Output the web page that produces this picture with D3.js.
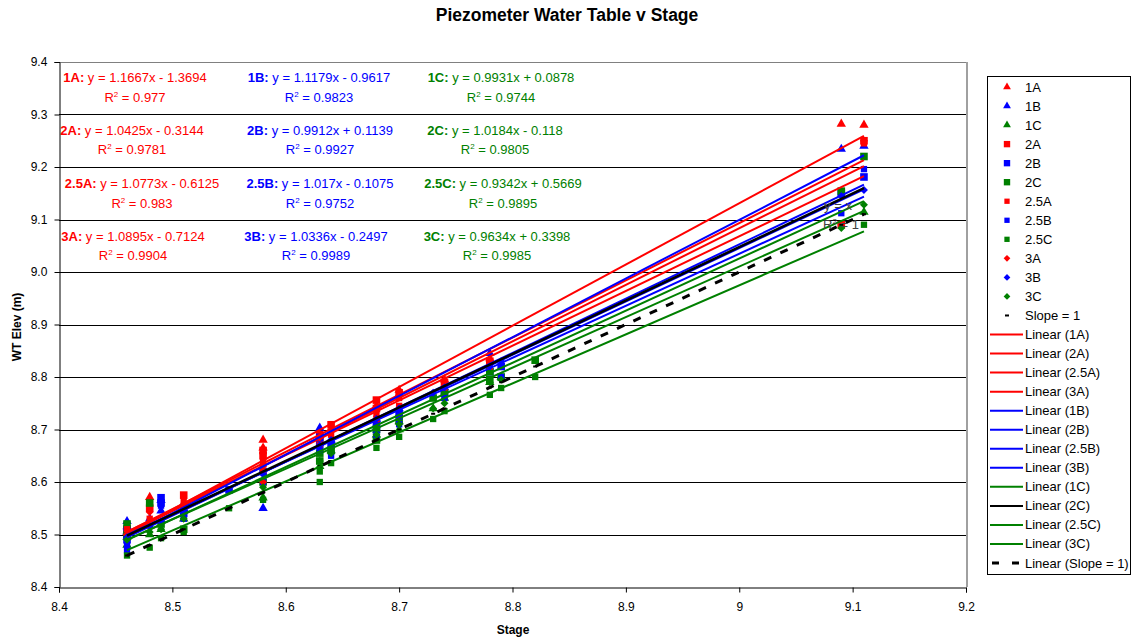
<!DOCTYPE html>
<html><head><meta charset="utf-8">
<script src="https://cdn.jsdelivr.net/npm/d3@7"></script>
<style>body{margin:0;background:#fff} text{font-family:Arial,"Liberation Sans",sans-serif}</style>
</head><body><svg id="c" width="1133" height="639"></svg>
<script>
// ---------------- DATA ----------------
const seriesNames = ["1A","1B","1C","2A","2B","2C","2.5A","2.5B","2.5C","3A","3B","3C"];
const x_1A = [8.46, 8.46, 8.48, 8.51, 8.58, 8.58, 8.63, 8.68, 8.70, 8.74, 8.78, 9.09, 9.11];
const y_1A = [8.505, 8.515, 8.571, 8.56, 8.68, 8.665, 8.69, 8.745, 8.775, 8.795, 8.835, 9.282, 9.28];
const x_1B = [8.46, 8.46, 8.48, 8.49, 8.49, 8.51, 8.58, 8.63, 8.64, 8.68, 8.70, 8.74, 8.78, 9.09, 9.11];
const y_1B = [8.525, 8.505, 8.53, 8.545, 8.565, 8.55, 8.55, 8.703, 8.68, 8.72, 8.74, 8.78, 8.845, 9.234, 9.24];
const x_1C = [8.46, 8.46, 8.48, 8.49, 8.51, 8.58, 8.63, 8.64, 8.68, 8.70, 8.70, 8.73, 8.74, 8.78, 8.79, 9.11];
const y_1C = [8.48, 8.495, 8.50, 8.51, 8.53, 8.57, 8.63, 8.66, 8.69, 8.70, 8.715, 8.74, 8.76, 8.79, 8.80, 9.114];
const x_2A = [8.46, 8.46, 8.48, 8.51, 8.58, 8.58, 8.63, 8.63, 8.64, 8.68, 8.68, 8.70, 8.74, 8.78, 9.09, 9.11];
const y_2A = [8.50, 8.51, 8.55, 8.575, 8.66, 8.65, 8.68, 8.69, 8.709, 8.74, 8.756, 8.77, 8.79, 8.83, 9.09, 9.25];
const x_2B = [8.46, 8.46, 8.49, 8.49, 8.51, 8.55, 8.58, 8.63, 8.63, 8.64, 8.68, 8.68, 8.70, 8.74, 8.78, 8.79, 9.09, 9.11];
const y_2B = [8.49, 8.51, 8.57, 8.56, 8.54, 8.585, 8.62, 8.67, 8.685, 8.67, 8.71, 8.70, 8.73, 8.77, 8.81, 8.82, 9.15, 9.181];
const x_2C = [8.46, 8.46, 8.48, 8.49, 8.51, 8.58, 8.63, 8.63, 8.64, 8.68, 8.68, 8.70, 8.73, 8.74, 8.78, 8.78, 8.79, 8.82, 9.09, 9.11];
const y_2C = [8.52, 8.50, 8.56, 8.52, 8.51, 8.60, 8.64, 8.655, 8.66, 8.70, 8.68, 8.72, 8.76, 8.77, 8.81, 8.795, 8.80, 8.832, 9.154, 9.22];
const x_25A = [8.46, 8.48, 8.51, 8.58, 8.58, 8.63, 8.64, 8.68, 8.68, 8.70, 8.70, 8.74, 8.78, 9.11];
const y_25A = [8.51, 8.53, 8.565, 8.64, 8.62, 8.67, 8.69, 8.73, 8.72, 8.76, 8.745, 8.78, 8.82, 9.245];
const x_25B = [8.46, 8.46, 8.49, 8.51, 8.58, 8.63, 8.64, 8.68, 8.70, 8.70, 8.74, 8.79, 9.09, 9.11];
const y_25B = [8.47, 8.48, 8.555, 8.53, 8.60, 8.66, 8.65, 8.69, 8.71, 8.725, 8.76, 8.80, 9.112, 9.196];
const x_25C = [8.46, 8.48, 8.49, 8.51, 8.55, 8.58, 8.63, 8.63, 8.64, 8.68, 8.70, 8.73, 8.74, 8.78, 8.79, 8.82, 9.11];
const y_25C = [8.46, 8.475, 8.493, 8.505, 8.55, 8.566, 8.60, 8.62, 8.636, 8.665, 8.686, 8.72, 8.735, 8.766, 8.779, 8.80, 9.09];
const x_3A = [8.46, 8.48, 8.51, 8.58, 8.58, 8.63, 8.64, 8.68, 8.70, 8.74, 8.78, 9.09, 9.11];
const y_3A = [8.50, 8.543, 8.555, 8.63, 8.60, 8.685, 8.70, 8.74, 8.765, 8.79, 8.83, 9.09, 9.25];
const x_3B = [8.46, 8.48, 8.49, 8.51, 8.58, 8.63, 8.64, 8.68, 8.70, 8.73, 8.74, 8.78, 8.79, 9.09, 9.11];
const y_3B = [8.495, 8.515, 8.525, 8.545, 8.615, 8.67, 8.68, 8.72, 8.74, 8.77, 8.78, 8.82, 8.83, 9.145, 9.156];
const x_3C = [8.46, 8.48, 8.49, 8.51, 8.58, 8.63, 8.64, 8.68, 8.70, 8.73, 8.74, 8.78, 8.79, 9.09, 9.11];
const y_3C = [8.49, 8.505, 8.51, 8.53, 8.59, 8.64, 8.655, 8.69, 8.71, 8.74, 8.75, 8.79, 8.795, 9.084, 9.128];
const x_slope = [8.46, 8.48, 8.49, 8.51, 8.55, 8.58, 8.63, 8.64, 8.68, 8.70, 8.73, 8.74, 8.78, 8.79, 8.82, 9.09, 9.11];
const y_slope = [8.46, 8.48, 8.49, 8.51, 8.55, 8.58, 8.63, 8.64, 8.68, 8.70, 8.73, 8.74, 8.78, 8.79, 8.82, 9.09, 9.11];

// trendline equations (same order as seriesNames)
const slopes     = [1.1667, 1.1179, 0.9931, 1.0425, 0.9912, 1.0184, 1.0773, 1.017, 0.9342, 1.0895, 1.0336, 0.9634];
const intercepts = [-1.3694, -0.9617, 0.0878, -0.3144, 0.1139, -0.118, -0.6125, -0.1075, 0.5669, -0.7124, -0.2497, 0.3398];
const r2         = [0.977, 0.9823, 0.9744, 0.9781, 0.9927, 0.9805, 0.983, 0.9752, 0.9895, 0.9904, 0.9989, 0.9985];
const slopeOneSlope = 1, slopeOneIntercept = 0, slopeOneR2 = 1;

const xTicks = [8.4, 8.5, 8.6, 8.7, 8.8, 8.9, 9.0, 9.1, 9.2];
const yTicks = [8.4, 8.5, 8.6, 8.7, 8.8, 8.9, 9.0, 9.1, 9.2, 9.3, 9.4];
const trendOrder = ["1A","2A","2.5A","3A","1B","2B","2.5B","3B","1C","2C","2.5C","3C"];

// ---------------- STYLE / LAYOUT ----------------
const xs = {"1A":x_1A,"1B":x_1B,"1C":x_1C,"2A":x_2A,"2B":x_2B,"2C":x_2C,"2.5A":x_25A,"2.5B":x_25B,"2.5C":x_25C,"3A":x_3A,"3B":x_3B,"3C":x_3C};
const ys = {"1A":y_1A,"1B":y_1B,"1C":y_1C,"2A":y_2A,"2B":y_2B,"2C":y_2C,"2.5A":y_25A,"2.5B":y_25B,"2.5C":y_25C,"3A":y_3A,"3B":y_3B,"3C":y_3C};
const colorOf = n => ({A:"#FF0000",B:"#0000FF",C:"#008000"})[n.slice(-1)];
const trendColor = n => n === "2C" ? "#000000" : colorOf(n);
const loc = n => n.slice(0, -1);

const svg = d3.select("#c");
const L = 59, R = 966, T = 62, B = 587;
const x = d3.scaleLinear().domain([8.4, 9.2]).range([L, R]);
const y = d3.scaleLinear().domain([8.4, 9.4]).range([B, T]);

function markerPath(n, scale) {
  const l = loc(n);
  if (l === "1") return d3.symbol(d3.symbolTriangle, 38 * scale)();
  if (l === "2") return d3.symbol(d3.symbolSquare, 58 * scale)();
  if (l === "2.5") return d3.symbol(d3.symbolSquare, 40 * scale)();
  return d3.symbol(d3.symbolSquare, 32 * scale)();
}
const rot = n => loc(n) === "3" ? " rotate(45)" : "";

// title
svg.append("text").attr("x", 567).attr("y", 21).attr("text-anchor", "middle")
  .attr("font-size", 17.5).attr("font-weight", "bold").text("Piezometer Water Table v Stage");

// gridlines
svg.append("g").selectAll("line").data(yTicks.slice(1, -1)).join("line")
  .attr("x1", L).attr("x2", R).attr("y1", d => Math.round(y(d)) + 0.5).attr("y2", d => Math.round(y(d)) + 0.5)
  .attr("stroke", "#000").attr("stroke-width", 1);
// plot border top/right
svg.append("line").attr("x1", L).attr("x2", R + 1).attr("y1", T + 0.5).attr("y2", T + 0.5).attr("stroke", "#808080");
svg.append("line").attr("x1", R + 1).attr("x2", R + 1).attr("y1", T).attr("y2", B).attr("stroke", "#a0a0a0").attr("stroke-width", 2);

// axes
const xAxis = svg.append("g").attr("transform", `translate(0,${B + 0.5})`)
  .call(d3.axisBottom(x).tickValues(xTicks).tickSize(5).tickFormat(d => d3.format("")(+d.toFixed(1))));
const yAxis = svg.append("g").attr("transform", `translate(${L + 0.5},0)`)
  .call(d3.axisLeft(y).tickValues(yTicks).tickSize(5).tickFormat(d3.format(".1f")));
[xAxis, yAxis].forEach(g => {
  g.selectAll("text").attr("font-size", 12).attr("font-family", "Arial, 'Liberation Sans', sans-serif").attr("fill", "#000");
  g.selectAll("line,path").attr("stroke", "#000");
});
xAxis.selectAll("text").attr("dy", "1.25em");
yAxis.selectAll("text").attr("dx", "-0.35em");

// axis titles
svg.append("text").attr("x", 513).attr("y", 634).attr("text-anchor", "middle")
  .attr("font-size", 12).attr("font-weight", "bold").text("Stage");
svg.append("text").attr("transform", "translate(21,327) rotate(-90)").attr("text-anchor", "middle")
  .attr("font-size", 12).attr("font-weight", "bold").text("WT Elev (m)");

// markers
const mg = svg.append("g");
seriesNames.forEach(n => {
  const pts = xs[n].map((v, i) => [v, ys[n][i]]);
  mg.append("g").selectAll("path").data(pts).join("path")
    .attr("d", markerPath(n, 1))
    .attr("transform", d => `translate(${x(d[0])},${y(d[1])})${rot(n)}`)
    .attr("fill", colorOf(n));
});
// slope = 1 markers
mg.append("g").selectAll("rect").data(x_slope.map((v, i) => [v, y_slope[i]])).join("rect")
  .attr("x", d => x(d[0]) - 2).attr("y", d => y(d[1]) - 1).attr("width", 4).attr("height", 2).attr("fill", "#000");

// trendlines
const tg = svg.append("g");
trendOrder.forEach(n => {
  const i = seriesNames.indexOf(n);
  const [x0, x1] = d3.extent(xs[n]);
  tg.append("line")
    .attr("x1", x(x0)).attr("y1", y(slopes[i] * x0 + intercepts[i]))
    .attr("x2", x(x1)).attr("y2", y(slopes[i] * x1 + intercepts[i]))
    .attr("stroke", trendColor(n)).attr("stroke-width", n === "2C" ? 2.5 : 2);
});
{
  const [x0, x1] = d3.extent(x_slope);
  tg.append("line")
    .attr("x1", x(x0)).attr("y1", y(slopeOneSlope * x0 + slopeOneIntercept))
    .attr("x2", x(x1)).attr("y2", y(slopeOneSlope * x1 + slopeOneIntercept))
    .attr("stroke", "#000").attr("stroke-width", 3).attr("stroke-dasharray", "8,10");
}

// equation labels
const fmtEq = (m, b) => `y = ${m}x ${b < 0 ? "-" : "+"} ${Math.abs(b)}`;
const colCenters = {A: [135, 132, 142, 133], B: [319, 320, 320, 316], C: [501, 495, 503, 497]};
const rowEqY = [82, 135, 188, 241];
const rowR2Y = [102, 154, 208, 260];
const locs = ["1", "2", "2.5", "3"];
const lg = svg.append("g");
function r2Text(g, cx, cy, val, color, anchor) {
  const t = g.append("text").attr("x", cx).attr("y", cy).attr("text-anchor", anchor || "middle")
    .attr("font-size", 13).attr("fill", color);
  t.append("tspan").text("R");
  t.append("tspan").attr("font-size", 8).attr("dy", -5).text("2");
  t.append("tspan").attr("dy", 5).text(` = ${val}`);
}
seriesNames.forEach((n, i) => {
  const li = locs.indexOf(loc(n));
  const cx = colCenters[n.slice(-1)][li];
  const c = colorOf(n);
  const t = lg.append("text").attr("x", cx).attr("y", rowEqY[li]).attr("text-anchor", "middle")
    .attr("font-size", 13).attr("fill", c);
  t.append("tspan").attr("font-weight", "bold").text(n + ":");
  t.append("tspan").text(" " + fmtEq(slopes[i], intercepts[i]));
  r2Text(lg, cx, rowR2Y[li], r2[i], c);
});
// slope = 1 label
lg.append("text").attr("x", 838).attr("y", 210).attr("text-anchor", "middle").attr("font-size", 13)
  .attr("fill", "#404040").text(`y = ${slopeOneSlope === 1 ? "" : slopeOneSlope}x`);
r2Text(lg, 841, 229, slopeOneR2, "#404040");

// legend
const leg = svg.append("g");
leg.append("rect").attr("x", 987.5).attr("y", 76.5).attr("width", 143).attr("height", 498)
  .attr("fill", "#fff").attr("stroke", "#000");
const legItems = [...seriesNames.map(n => ({type: "marker", n, label: n})),
  {type: "slopeMarker", label: "Slope = 1"},
  ...trendOrder.map(n => ({type: "line", n, label: `Linear (${n})`})),
  {type: "dash", label: "Linear (Slope = 1)"}];
legItems.forEach((d, i) => {
  const cy = 87 + i * 19.04;
  const g = leg.append("g");
  if (d.type === "marker") {
    g.append("path").attr("d", markerPath(d.n, 0.7))
      .attr("transform", `translate(1007,${cy})${rot(d.n)}`).attr("fill", colorOf(d.n));
  } else if (d.type === "slopeMarker") {
    g.append("rect").attr("x", 1005).attr("y", cy - 1).attr("width", 4).attr("height", 2).attr("fill", "#000");
  } else if (d.type === "line") {
    g.append("line").attr("x1", 990).attr("x2", 1023).attr("y1", cy).attr("y2", cy)
      .attr("stroke", trendColor(d.n)).attr("stroke-width", 2);
  } else {
    g.append("line").attr("x1", 992).attr("x2", 1023).attr("y1", cy).attr("y2", cy)
      .attr("stroke", "#000").attr("stroke-width", 3).attr("stroke-dasharray", "7,13");
  }
  g.append("text").attr("x", 1025).attr("y", cy + 4.5).attr("font-size", 13).text(d.label);
});
</script></body></html>
